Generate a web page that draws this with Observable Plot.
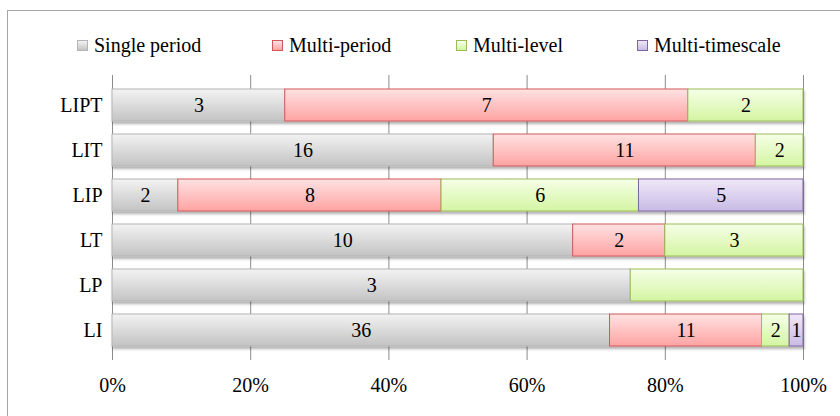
<!DOCTYPE html>
<html>
<head>
<meta charset="utf-8">
<script src="https://cdn.jsdelivr.net/npm/d3@7"></script>
<script src="https://cdn.jsdelivr.net/npm/@observablehq/plot@0.6"></script>
<style>
  body { margin: 0; background: #fff; font-family: "Liberation Serif", "Times New Roman", serif; }
  #chart { position: relative; width: 840px; height: 416px; overflow: hidden; color: #000; }
  #frame { position: absolute; left: 7px; top: 10px; width: 900px; height: 500px; border: 1px solid #a6a6a6; box-sizing: border-box; }
  #legend { position: relative; height: 75px; }
  .item { position: absolute; top: 33px; font-size: 20px; line-height: 24px; white-space: nowrap; }
  .swatch { display: inline-block; width: 9px; height: 9px; margin-right: 6px; border: 1px solid; vertical-align: 1px; }
  #plot { position: relative; }
</style>
</head>
<body>
<div id="chart">
  <div id="frame"></div>
  <div id="legend"></div>
  <div id="plot"></div>
</div>
<script>
// Categories (top to bottom) and the four study types
const categories = ["LIPT", "LIT", "LIP", "LT", "LP", "LI"];
const series = ["Single period", "Multi-period", "Multi-level", "Multi-timescale"];

// Counts per category, one array per study type
const singlePeriod   = [3, 16, 2, 10, 3, 36];
const multiPeriod    = [7, 11, 8, 2, 0, 11];
const multiLevel     = [2, 2, 6, 3, 1, 2];
const multiTimescale = [0, 0, 5, 0, 0, 1];

// Segments printed without a count
const unlabeled = [["LP", "Multi-level"]];

// Axis ticks
const xTicks = [0, 0.2, 0.4, 0.6, 0.8, 1];

// Gradient stops (top, bottom) and outline per study type
const topColors    = ["#f3f3f3", "#ffe2e2", "#f6ffe8", "#efe8f8"];
const bottomColors = ["#c3c3c3", "#ffa3a3", "#d4f5a2", "#c9bbe5"];
const strokeColors = ["#b4b4b4", "#d0585a", "#9bbb59", "#8064a2"];

const columns = [singlePeriod, multiPeriod, multiLevel, multiTimescale];
const rows = categories.flatMap((category, i) =>
  series.map((s, j) => ({
    category,
    series: s,
    value: columns[j][i],
    labeled: !unlabeled.some(([c, k]) => c === category && k === s)
  }))
).filter(d => d.value > 0);

const font = `"Liberation Serif", "Times New Roman", serif`;

// Legend
const legend = document.getElementById("legend");
const legendX = [77, 272, 456, 637];
series.forEach((s, i) => {
  const item = document.createElement("div");
  item.className = "item";
  item.style.left = legendX[i] + "px";
  const sw = document.createElement("span");
  sw.className = "swatch";
  sw.style.background = `linear-gradient(${topColors[i]}, ${bottomColors[i]})`;
  sw.style.borderColor = strokeColors[i];
  const label = document.createElement("span");
  label.textContent = s;
  item.appendChild(sw);
  item.appendChild(label);
  legend.appendChild(item);
});

const plot = Plot.plot({
  width: 840,
  height: 341,
  marginLeft: 112,
  marginRight: 37,
  marginTop: 0,
  marginBottom: 56,
  style: { fontFamily: font, fontSize: "20px", color: "#000", background: "transparent", overflow: "visible" },
  x: { domain: [0, 1], ticks: xTicks, tickFormat: d => Math.round(d * 100) + "%", tickSize: 0, tickPadding: 17, label: null },
  y: { domain: categories, padding: 0.28, tickSize: 0, tickPadding: 10, label: null },
  color: { domain: series, range: series.map((s, i) => `url(#fill-${i})`) },
  marks: [
    Plot.ruleX(xTicks, { stroke: "#8c8c8c", strokeWidth: 1 }),
    Plot.barX(rows, Plot.stackX({
      x: "value", y: "category", z: "series", offset: "normalize",
      fill: "series",
      stroke: d => strokeColors[series.indexOf(d.series)],
      strokeWidth: 1
    })),
    Plot.text(rows, Plot.stackX({
      x: "value", y: "category", z: "series", offset: "normalize",
      text: d => d.labeled ? String(d.value) : null,
      fill: "#000", fontSize: 20
    }))
  ]
});

// Gradient fills and the soft drop shadow under the bars
const svg = d3.select(plot);
const defs = svg.insert("defs", ":first-child");
series.forEach((s, i) => {
  const g = defs.append("linearGradient").attr("id", `fill-${i}`)
    .attr("x1", 0).attr("y1", 0).attr("x2", 0).attr("y2", 1);
  g.append("stop").attr("offset", "0%").attr("stop-color", topColors[i]);
  g.append("stop").attr("offset", "100%").attr("stop-color", bottomColors[i]);
});
defs.append("filter").attr("id", "shadow").attr("x", "-5%").attr("y", "-20%").attr("width", "110%").attr("height", "160%")
  .append("feDropShadow").attr("dx", 1).attr("dy", 2.5).attr("stdDeviation", 1.2)
  .attr("flood-color", "#000").attr("flood-opacity", 0.3);
svg.selectAll('g[aria-label="bar"]').attr("filter", "url(#shadow)");

document.getElementById("plot").appendChild(plot);
</script>
</body>
</html>
